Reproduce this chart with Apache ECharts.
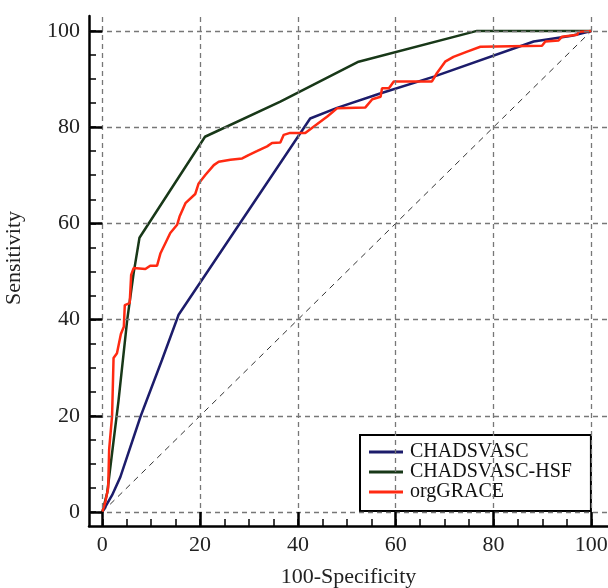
<!DOCTYPE html>
<html>
<head>
<meta charset="utf-8">
<script src="https://cdn.jsdelivr.net/npm/echarts@6/dist/echarts.min.js"></script>
<style>
  html, body { margin: 0; padding: 0; background: #fff; }
  #main { width: 608px; height: 588px; }
</style>
</head>
<body>
<div id="main"></div>
<script>
// tick positions (both axes)
var majorTicks = [0, 20, 40, 60, 80, 100]
var minorTicks = [5, 10, 15, 25, 30, 35, 45, 50, 55, 65, 70, 75, 85, 90, 95]

var seriesNames = ['CHADSVASC', 'CHADSVASC-HSF', 'orgGRACE']

// ROC points [100-Specificity, Sensitivity]
var chadsvasc = [
  [0, 0], [2, 3.5], [3.7, 7.3], [7.8, 19.8], [12.2, 31.6], [15.6, 41],
  [42.5, 81.8], [48, 84], [56.8, 87], [67.8, 90.5], [88.2, 97.8], [96, 99], [100, 100]
]
var chadsvascHsf = [
  [0, 0], [1, 4], [3.3, 23], [5.1, 40], [6.4, 49.6], [7.6, 57],
  [21, 78], [36.4, 85.3], [52.4, 93.6], [76.6, 100], [100, 100]
]
var orgGrace = [
  [0, 0], [0.6, 2], [1.2, 5], [1.4, 13], [2, 20], [2.3, 32], [3, 33], [3.8, 37],
  [4.4, 38.5], [4.6, 43], [5.6, 43.4], [5.9, 49.3], [6.4, 50.7], [8.8, 50.5],
  [9.8, 51.2], [11.2, 51.2], [11.9, 53.8], [13.9, 58], [15.3, 59.7], [15.8, 61.4],
  [17, 64.2], [19, 66.1], [19.7, 68.3], [21.1, 70.1], [22.8, 72.1], [23.8, 72.8],
  [26.2, 73.2], [28.6, 73.5], [29.9, 74.2], [31.6, 75], [33.7, 76], [34.7, 76.7],
  [36.4, 76.8], [37.1, 78.4], [38.4, 78.8], [41.5, 78.8], [43.2, 80.1], [46, 82.2],
  [48, 83.9], [53.8, 84.1], [55.2, 85.8], [56.9, 86.3], [57.2, 88.1], [58.6, 88.1],
  [59.6, 89.5], [67.4, 89.5], [68.4, 91.2], [70.1, 93.6], [71.8, 94.6], [74.6, 95.7],
  [77.3, 96.7], [89.9, 96.9], [90.6, 97.8], [93.3, 98], [94, 98.8], [97.1, 99.2],
  [97.4, 99.8], [100, 100]
]
var chanceLine = [[0, 0], [100, 100]]

var colors = ['#1c1c6b', '#183818', '#ff2a12']
var serif = 'Liberation Serif'

// axis lines sit a bit outside the 0..100 box
var xMin = -2.72, xMax = 103.4
var yMin = -2.91, yMax = 103.1

var myChart = echarts.init(document.getElementById('main'))

// dashed grid lines at the major ticks
var gridLines = []
majorTicks.forEach(function (v) {
  gridLines.push({ xAxis: v })
  gridLines.push({ yAxis: v })
})
// long (major) ticks: from the axis line up to the 0 gridline
var bigTicks = []
majorTicks.forEach(function (v) {
  bigTicks.push([{ coord: [v, yMin] }, { coord: [v, 0] }])
  bigTicks.push([{ coord: [xMin, v] }, { coord: [0, v] }])
})
var allTicks = majorTicks.concat(minorTicks).sort(function (a, b) { return a - b })

function mainAxis(extra) {
  return Object.assign({
    type: 'value',
    axisLine: { show: true, onZero: false, lineStyle: { color: '#000', width: 2.5 } },
    axisTick: { show: true, inside: true, length: 7, customValues: allTicks, lineStyle: { color: '#000', width: 1.5 } },
    axisLabel: { customValues: majorTicks, fontFamily: serif, fontSize: 22, color: '#222', margin: 8 },
    splitLine: { show: false },
    nameLocation: 'middle',
    nameTextStyle: { fontFamily: serif, fontSize: 22, color: '#222' }
  }, extra)
}

var option = {
  animation: false,
  color: colors,
  grid: { left: 89, right: 0, top: 16, bottom: 62, containLabel: false, outerBoundsMode: 'none' },
  legend: {
    data: seriesNames,
    orient: 'vertical',
    left: 360,
    top: 435,
    padding: [7, 19, 9, 9],
    borderColor: '#000',
    borderWidth: 2,
    backgroundColor: '#fff',
    itemGap: 0,
    itemWidth: 34,
    itemHeight: 3,
    icon: 'rect',
    textStyle: { fontFamily: serif, fontSize: 20, color: '#111', lineHeight: 20, padding: [0, 0, 0, 2] }
  },
  xAxis: mainAxis({
    min: xMin, max: xMax, position: 'bottom',
    name: '100-Specificity', nameGap: 40
  }),
  yAxis: mainAxis({
    min: yMin, max: yMax, position: 'left',
    name: 'Sensitivity', nameGap: 64,
    nameTextStyle: { fontFamily: serif, fontSize: 22, color: '#222', padding: [0, 0, 0, 26] },
    axisLabel: { customValues: majorTicks, fontFamily: serif, fontSize: 22, color: '#222', margin: 9 }
  }),
  series: [
    {
      name: seriesNames[0],
      type: 'line',
      data: chadsvasc,
      symbol: 'none',
      itemStyle: { color: colors[0] },
      lineStyle: { color: colors[0], width: 2.5 }
    },
    {
      name: seriesNames[1],
      type: 'line',
      data: chadsvascHsf,
      symbol: 'none',
      itemStyle: { color: colors[1] },
      lineStyle: { color: colors[1], width: 2.5 }
    },
    {
      name: seriesNames[2],
      type: 'line',
      data: orgGrace,
      symbol: 'none',
      itemStyle: { color: colors[2] },
      lineStyle: { color: colors[2], width: 2.5 }
    },
    {
      name: 'chance',
      type: 'line',
      data: chanceLine,
      symbol: 'none',
      silent: true,
      z: 1,
      itemStyle: { color: '#333' },
      lineStyle: { color: '#333', width: 1, type: [6, 5] },
      markLine: {
        silent: true,
        symbol: 'none',
        label: { show: false },
        lineStyle: { color: '#777', width: 1.3, type: [5, 4] },
        data: gridLines
      }
    },
    {
      name: 'ticks',
      type: 'line',
      data: [],
      silent: true,
      z: 3,
      markLine: {
        silent: true,
        symbol: 'none',
        label: { show: false },
        lineStyle: { color: '#000', width: 2.5, type: 'solid' },
        data: bigTicks
      }
    }
  ]
}

myChart.setOption(option)
</script>
</body>
</html>
